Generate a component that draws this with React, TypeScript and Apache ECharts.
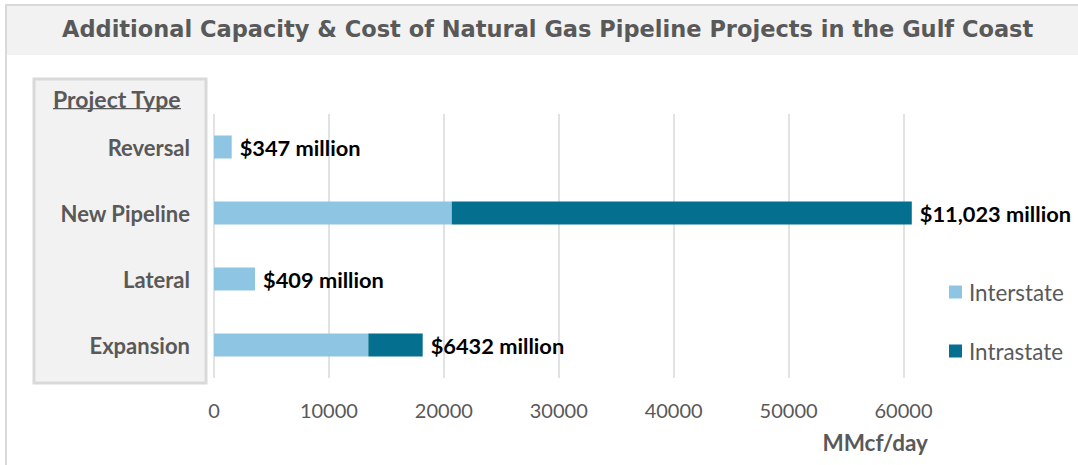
import React, { useEffect, useRef } from "react";
import * as echarts from "echarts";

const categories = ["Reversal", "New Pipeline", "Lateral", "Expansion"];
const interstate = [1540, 20690, 3570, 13430];
const intrastate = [0, 40030, 0, 4730];
const costLabels = ["$347 million", "$11,023 million", "$409 million", "$6432 million"];
const seriesNames = ["Interstate", "Intrastate"];
const titleText = "Additional Capacity & Cost of Natural Gas Pipeline Projects in the Gulf Coast";
const axisTitle = "MMcf/day";
const boxTitle = "Project Type";

const GRAY = "#595959";
const FONT = "Lato, 'Noto Sans', sans-serif";
const TFONT = "'DejaVu Sans', 'Noto Sans', sans-serif";

export default function App() {
  const ref = useRef<HTMLDivElement>(null);
  useEffect(() => {
    if (!ref.current) return;
    const chart = echarts.init(ref.current, null, { renderer: "svg" });
    chart.setOption({
      animation: false,
      backgroundColor: "#ffffff",
      textStyle: { fontFamily: FONT },
      graphic: [
        { type: "rect", z: -10, shape: { x: 6, y: 5, width: 1080, height: 470 }, style: { fill: "#fff", stroke: "#d9d9d9", lineWidth: 2 } },
        { type: "rect", z: -9, shape: { x: 7, y: 6, width: 1071, height: 49 }, style: { fill: "#f2f2f2" } },
        { type: "rect", z: -8, shape: { x: 34, y: 79, width: 172, height: 304 }, style: { fill: "#f2f2f2", stroke: "#d9d9d9", lineWidth: 3 } },
        {
          type: "text", z: 5, left: 62, top: 17,
          style: { text: titleText, fill: GRAY, font: `bold 22.5px ${TFONT}` },
        },
        {
          type: "text", z: 5, x: 53, y: 87,
          style: { text: boxTitle, fill: GRAY, font: `bold 23px ${FONT}` },
        },
        { type: "rect", z: 5, shape: { x: 53, y: 108, width: 128, height: 1.2 }, style: { fill: GRAY } },
      ],
      legend: {
        orient: "vertical",
        left: 944,
        top: 276,
        itemGap: 37,
        itemWidth: 13,
        itemHeight: 13,
        icon: "rect",
        data: seriesNames,
        textStyle: { color: GRAY, fontSize: 22.4, fontFamily: FONT, padding: [0, 0, 0, 2] },
      },
      grid: { left: 214, right: 163, top: 114, bottom: 87, containLabel: false },
      xAxis: {
        type: "value",
        min: 0,
        max: 61000,
        interval: 10000,
        name: axisTitle,
        nameLocation: "end",
        nameGap: 13,
        nameTextStyle: { color: GRAY, fontSize: 22.5, fontWeight: "bold", fontFamily: FONT, align: "right", verticalAlign: "top", padding: [53, 0, 0, 0] },
        axisLine: { show: false },
        axisTick: { show: false },
        axisLabel: { color: GRAY, fontSize: 20, fontFamily: FONT, margin: 22, showMaxLabel: false, formatter: (v: number) => String(v) },
        splitLine: { show: true, showMaxLine: false, lineStyle: { color: "#d9d9d9", width: 1.5 } },
      },
      yAxis: {
        type: "category",
        inverse: true,
        data: categories,
        axisLine: { show: false },
        axisTick: { show: false },
        axisLabel: { color: GRAY, fontSize: 22, fontWeight: "bold", fontFamily: FONT, margin: 24 },
      },
      series: [
        {
          name: seriesNames[0],
          type: "bar",
          stack: "cap",
          barWidth: 23,
          data: interstate,
          itemStyle: { color: "#8dc5e3" },
        },
        {
          name: seriesNames[1],
          type: "bar",
          stack: "cap",
          barWidth: 23,
          data: intrastate,
          itemStyle: { color: "#046f8f" },
          label: {
            show: true,
            position: "right",
            distance: 8,
            color: "#000",
            fontSize: 21.8,
            fontWeight: "bold",
            fontFamily: FONT,
            formatter: (p: any) => costLabels[p.dataIndex],
          },
        },
      ],
    });
    return () => chart.dispose();
  }, []);
  return <div ref={ref} style={{ position: "fixed", left: 0, top: 0, width: 1078, height: 465 }} />;
}
